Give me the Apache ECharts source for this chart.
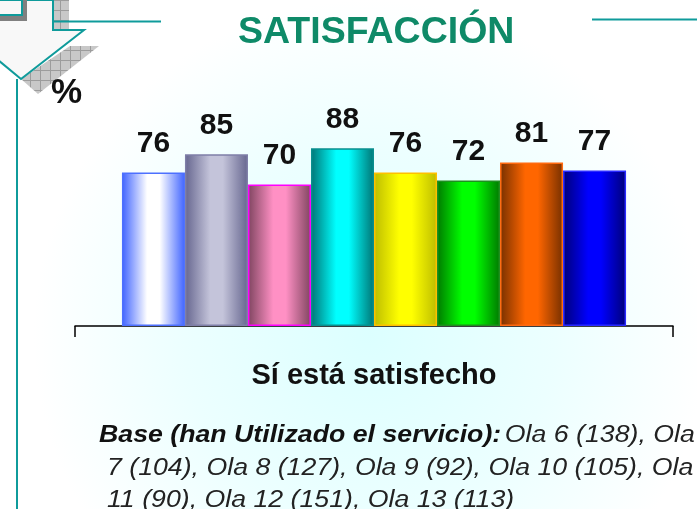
<!DOCTYPE html>
<html>
<head>
<meta charset="utf-8">
<style>
html,body{margin:0;padding:0;background:#fff;}
#main{width:697px;height:509px;}
</style>
<script src="https://cdn.jsdelivr.net/npm/echarts@6/dist/echarts.min.js"></script>
</head>
<body>
<div id="main"></div>
<script>
var categories = ['Sí está satisfecho'];
var olas = ['Ola 6', 'Ola 7', 'Ola 8', 'Ola 9', 'Ola 10', 'Ola 11', 'Ola 12', 'Ola 13'];
var values = [76, 85, 70, 88, 76, 72, 81, 77];
var edgeColors = ['#3f63ff', '#66668f', '#7f4560', '#007575', '#bdbd00', '#007a00', '#773000', '#000078'];
var midColors = ['#ffffff', '#c4c4da', '#ff90c4', '#00ffff', '#ffff00', '#00ff00', '#ff6600', '#0000ff'];
var borderColors = ['#4d70ff', '#7f7fa8', '#ff00ff', '#0a8f8f', '#ffc000', '#1f8f1f', '#ff6a10', '#2a2aff'];
var teal = '#0f9b9b';

function hatch(){
    var c = document.createElement('canvas');
    c.width = 10; c.height = 10;
    var g = c.getContext('2d');
    g.fillStyle = '#c8c8c8';
    g.fillRect(0, 0, 10, 10);
    g.fillStyle = '#9c9c9c';
    g.fillRect(0, 0, 10, 1);
    g.fillRect(0, 0, 1, 10);
    return {image: c, repeat: 'repeat'};
}

function barSeries(name, i){
    return {
        name: name,
        type: 'bar',
        barGap: 0,
        barCategoryGap: '15.7%',
        data: [values[i]],
        itemStyle: {
            borderColor: borderColors[i],
            borderWidth: 1.5,
            color: {
                type: 'linear', x: 0, y: 0, x2: 1, y2: 0,
                colorStops: [
                    {offset: 0, color: edgeColors[i]},
                    {offset: 0.4, color: midColors[i]},
                    {offset: 0.6, color: midColors[i]},
                    {offset: 1, color: edgeColors[i]}
                ]
            }
        },
        label: {
            show: true,
            position: 'top',
            distance: 14,
            color: '#111',
            fontFamily: 'Liberation Sans',
            fontWeight: 'bold',
            fontSize: 30
        }
    };
}

// notes in the reference are a bit wider than the font, so they get stretched
function note(text, x, y){
    return {
        type: 'text', x: x, y: y, scaleX: 1.09,
        style: {text: text, font: 'italic 24.5px "Liberation Sans"', fill: '#222'}
    };
}

var myChart = echarts.init(document.getElementById('main'));
var pattern = hatch();
var option = {
    animation: false,
    backgroundColor: {
        type: 'radial', x: 0.53, y: 0.66, r: 0.66,
        colorStops: [
            {offset: 0, color: '#dcffff'},
            {offset: 0.55, color: '#ecffff'},
            {offset: 1, color: '#ffffff'}
        ]
    },
    grid: {left: 75, width: 598, top: 124, height: 202},
    xAxis: {
        type: 'category',
        data: categories,
        axisLine: {lineStyle: {color: '#000', width: 1.5}},
        axisTick: {show: true, length: 11, lineStyle: {color: '#000', width: 1.5}},
        axisLabel: {
            margin: 35,
            color: '#111',
            fontFamily: 'Liberation Sans',
            fontWeight: 'bold',
            fontSize: 29
        }
    },
    yAxis: {type: 'value', min: 0, max: 100, show: false, splitLine: {show: false}},
    series: olas.map(barSeries),
    graphic: [
        // arrow and frame from the slide
        {type: 'rect', shape: {x: 53, y: 0, width: 16, height: 31}, style: {fill: pattern}},
        {type: 'polygon', shape: {points: [[70, 46], [99, 46], [38, 94], [21, 79]]}, style: {fill: pattern}},
        {type: 'polygon', shape: {points: [[-2, 0], [53, 0], [53, 30], [84, 30], [21, 79], [-2, 60]]},
            style: {fill: '#f8f8f8', stroke: teal, lineWidth: 2}},
        {type: 'rect', shape: {x: 0, y: 15, width: 27, height: 6}, style: {fill: '#808080'}},
        {type: 'rect', shape: {x: 22, y: 0, width: 5, height: 21}, style: {fill: '#808080'}},
        {type: 'polyline', shape: {points: [[0, 15], [22, 15], [22, 0]]}, style: {fill: 'none', stroke: teal, lineWidth: 2}},
        {type: 'line', shape: {x1: 17, y1: 79, x2: 17, y2: 509}, style: {stroke: teal, lineWidth: 2}},
        {type: 'line', shape: {x1: 53, y1: 21.5, x2: 161, y2: 21.5}, style: {stroke: teal, lineWidth: 2}},
        {type: 'line', shape: {x1: 592, y1: 19.5, x2: 697, y2: 19.5}, style: {stroke: teal, lineWidth: 2}},
        // title and notes
        {type: 'text', left: 238, top: 14, style: {
            text: 'SATISFACCIÓN', fill: '#0e8a68',
            font: 'bold 37.5px "Liberation Sans"'
        }},
        {type: 'text', left: 51, top: 76, style: {
            text: '%', fill: '#111',
            font: 'bold 35px "Liberation Sans"'
        }},
        {
            type: 'text', x: 99, y: 423, scaleX: 1.09,
            style: {
                rich: {
                    b: {font: 'italic bold 24.5px "Liberation Sans"', fill: '#111'},
                    n: {font: 'italic 24.5px "Liberation Sans"', fill: '#222'}
                },
                text: '{b|Base (han Utilizado el servicio):} {n|Ola 6 (138), Ola}'
            }
        },
        note('7 (104), Ola 8 (127), Ola 9 (92), Ola 10 (105), Ola', 107, 456),
        note('11 (90), Ola 12 (151), Ola 13 (113)', 107, 488)
    ]
};
myChart.setOption(option);
</script>
</body>
</html>
